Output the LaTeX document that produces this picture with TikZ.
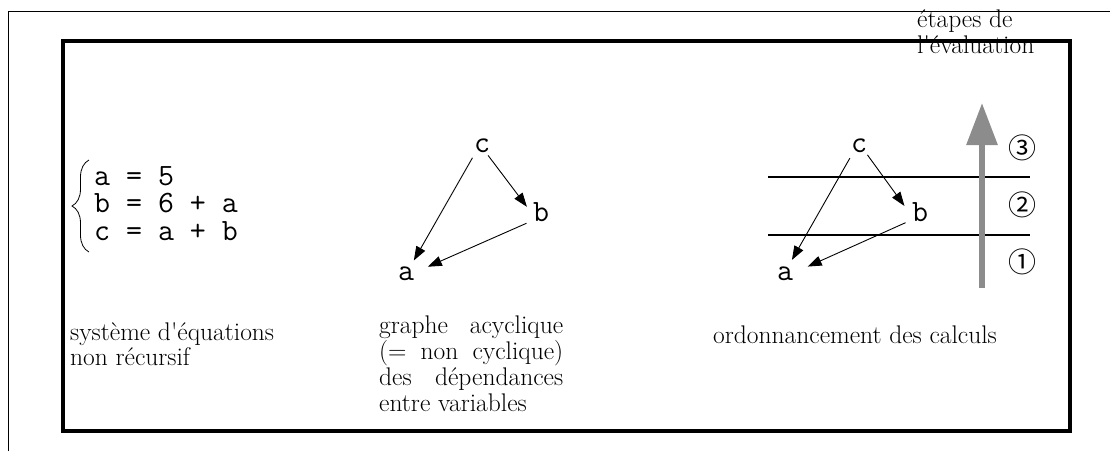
\documentclass[tikz,border=0pt]{standalone}
\usepackage{fontspec}
\newfontfamily\cjkfont{Noto Sans CJK SC}
\usetikzlibrary{arrows.meta,decorations.pathreplacing}
\definecolor{arrowgray}{RGB}{140,140,140}
\begin{document}
\begin{tikzpicture}[x=1pt,y=-1pt,
  lbl/.style={anchor=base west,inner sep=0pt,font=\fontsize{25.5}{27}\selectfont},
  eq/.style={anchor=base west,inner sep=0pt,align=left,font=\ttfamily\fontsize{31}{27.5}\selectfont},
  var/.style={circle,inner sep=0pt,minimum size=30pt,font=\ttfamily\fontsize{31}{31}\selectfont},
  dep/.style={-{Triangle[length=14pt,width=10pt]},line width=0.9pt},
  num/.style={inner sep=0pt,font=\cjkfont\fontsize{28}{28}\selectfont},
  sep/.style={line width=2pt},
]
\useasboundingbox (0,0) rectangle (1110,451);
% frames
\draw[line width=1pt] (8,451) -- (8,11) -- (1110,11);
\draw[line width=4pt] (63,41) rectangle (1070,430.5);

% equations (base anchor = last line)
\node[eq] (eqs) at (94,240) {a = 5\\b = 6 + a\\c = a + b};
\coordinate (brbot) at (89,252);
\coordinate (brtop) at (89,160);
\draw[line width=0.8pt,decorate,decoration={brace,amplitude=17pt}] (brbot) -- (brtop);
\node[lbl] (cap1a) at (70,340) {syst\`eme d\textquotesingle\'equations};
\node[lbl] (cap1b) at (70,365) {non r\'ecursif};

% dependency graph
\node[var] (c1) at (482,146) {c};
\node[var] (b1) at (541,212.5) {b};
\node[var] (a1) at (406,273.5) {a};
\draw[dep] (c1.231) -- (a1.59);
\draw[dep,shorten <=-4pt] (c1.304) -- (b1.158);
\draw[dep,shorten <=3pt,shorten >=7.7pt] (b1.219) -- (a1.14);
\node[lbl] (cap2a) at (379,333) {\makebox[184pt][s]{graphe acyclique}};
\node[lbl] (cap2b) at (379,359) {\makebox[184pt][s]{(= non cyclique)}};
\node[lbl] (cap2c) at (379,385) {\makebox[184pt][s]{des d\'ependances}};
\node[lbl] (cap2d) at (379,411) {entre variables};

% schedule
\draw[sep] (768,177) -- (1030,177);
\draw[sep] (768,235) -- (1030,235);
\draw[arrowgray,line width=6pt,-{Triangle[length=42pt,width=30pt]}] (982,288) -- (982,103);
\node[var] (c2) at (859,146) {c};
\node[var] (b2) at (920,212.5) {b};
\node[var] (a2) at (785,273.5) {a};
\draw[dep] (c2.233) -- (a2.63);
\draw[dep,shorten <=-3pt,shorten >=2pt] (c2.312) -- (b2.161);
\draw[dep,shorten <=2.5pt,shorten >=8.6pt] (b2.217) -- (a2.13);
\node[num] (n3) at (1022,148) {③};
\node[num] (n2) at (1022,205) {②};
\node[num] (n1) at (1022,262) {①};
\node[lbl] (et1) at (917,27) {\'etapes de};
\node[lbl] (et2) at (917,53) {l\textquotesingle\'evaluation};
\node[lbl] (cap3) at (713,343) {ordonnancement des calculs};
\end{tikzpicture}
\end{document}
